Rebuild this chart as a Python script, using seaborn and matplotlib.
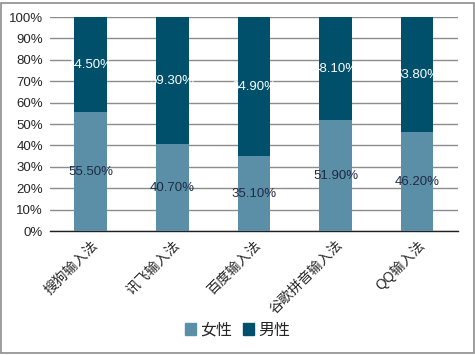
import numpy as np
import pandas as pd
import matplotlib
matplotlib.use('Agg')
import matplotlib.pyplot as plt
import seaborn as sns
from matplotlib.patches import Rectangle, Patch

# данные
categories = ['搜狗输入法', '讯飞输入法', '百度输入法', '谷歌拼音输入法', 'QQ输入法']
female = [55.5, 40.7, 35.1, 51.9, 46.2]
male = [44.5, 59.3, 64.9, 48.1, 53.8]

female_color = '#5b8fa8'
male_color = '#00506b'

sns.set_style('white')
plt.rcParams['font.family'] = ['Liberation Sans', 'Noto Sans CJK SC', 'DejaVu Sans']

df = pd.DataFrame({'cat': categories, 'female': female, 'male': male})
df['total'] = df['female'] + df['male']

fig = plt.figure(figsize=(4.75, 3.55), dpi=100)
ax = fig.add_axes([0.105, 0.349, 0.859, 0.603])

sns.barplot(data=df, x='cat', y='total', color=male_color, width=0.4,
            saturation=1, linewidth=0, ax=ax, zorder=3)
sns.barplot(data=df, x='cat', y='female', color=female_color, width=0.4,
            saturation=1, linewidth=0, ax=ax, zorder=3)

for i, (f, m) in enumerate(zip(female, male)):
    ax.text(i, f / 2, f'{f:.2f}%', ha='center', va='center', fontsize=9.5,
            color='#1f2a44', zorder=4)
    ax.text(i, f + m / 2, f'{m:.2f}%', ha='center', va='center', fontsize=9.5,
            color='white', zorder=4)

ax.set_ylim(0, 100)
ax.set_xlim(-0.5, 4.5)
ax.set_yticks(np.arange(0, 101, 10))
ax.set_yticklabels([f'{v}%' for v in range(0, 101, 10)], fontsize=9.5)
ax.yaxis.grid(True, color='#8c8c8c', linewidth=1, zorder=0)
ax.set_axisbelow(True)
ax.set_xlabel('')
ax.set_ylabel('')
plt.setp(ax.get_xticklabels(), rotation=45, ha='right', rotation_mode='anchor', fontsize=10)
ax.tick_params(axis='both', length=0, pad=5)
for s in ['top', 'right', 'left']:
    ax.spines[s].set_visible(False)
ax.spines['bottom'].set_color('#222222')
ax.spines['bottom'].set_linewidth(1)

handles = [Patch(color=female_color, label='女性'), Patch(color=male_color, label='男性')]
fig.legend(handles=handles, loc='center', bbox_to_anchor=(0.5, 0.07), ncol=2,
           frameon=False, fontsize=11.5, handlelength=0.7, handleheight=0.7,
           handletextpad=0.25, columnspacing=0.7)

fig.patches.append(Rectangle((0.003, 0.006), 0.994, 0.986, transform=fig.transFigure,
                             fill=False, edgecolor='#8c8c8c', linewidth=1.2))

fig.savefig('out.png', dpi=100)
